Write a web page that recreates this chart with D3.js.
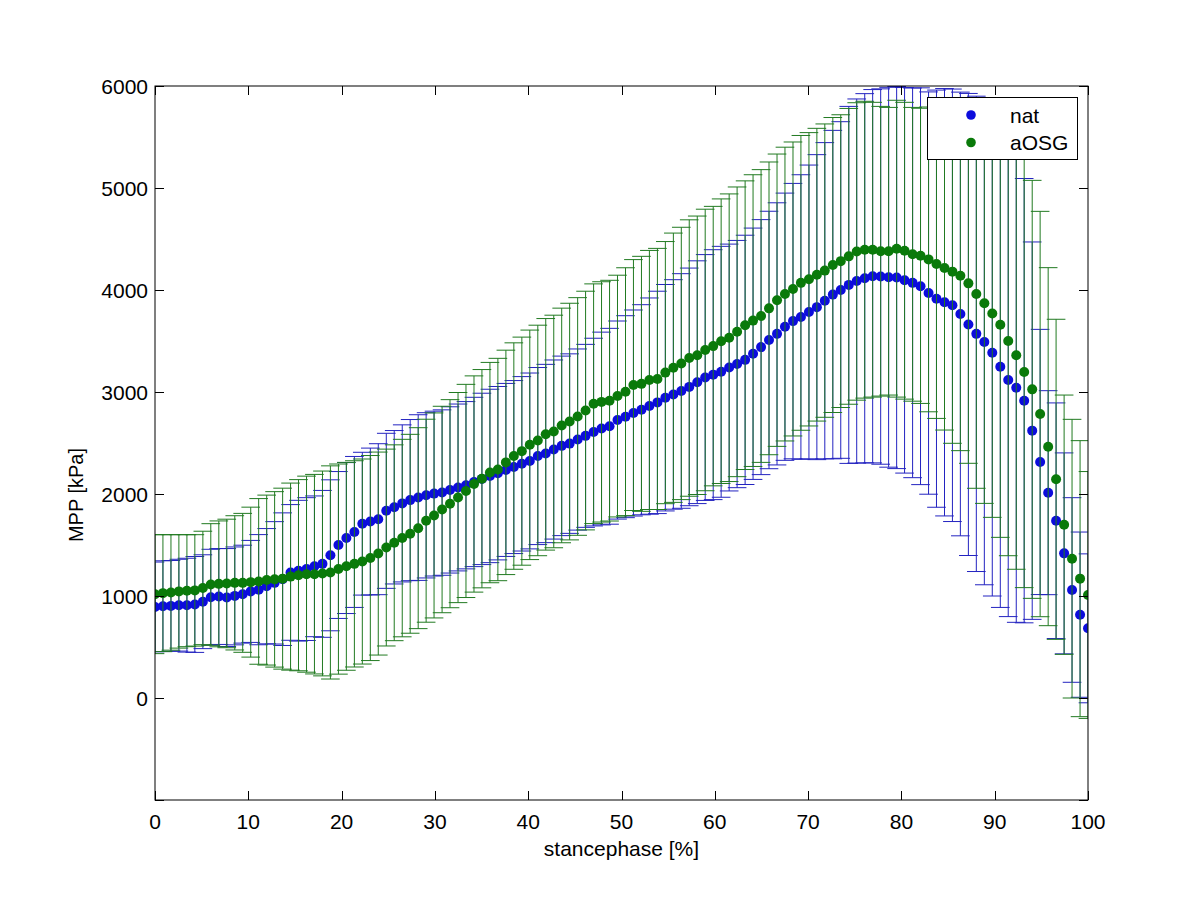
<!DOCTYPE html>
<html><head><meta charset="utf-8">
<script src="https://cdn.jsdelivr.net/npm/d3@7"></script>
<style>body{margin:0;background:#fff} text{font-family:"Liberation Sans",Arial,sans-serif;fill:#000}</style>
</head><body><svg id="c" width="1200" height="900"></svg>
<script>
// stance phase sample positions [%]
const stance = [
 0, 0.85, 1.71, 2.56, 3.42, 4.27, 5.13, 5.98, 6.84, 7.69,
 8.55, 9.40, 10.26, 11.11, 11.97, 12.82, 13.68, 14.53, 15.38, 16.24,
 17.09, 17.95, 18.80, 19.66, 20.51, 21.37, 22.22, 23.08, 23.93, 24.79,
 25.64, 26.50, 27.35, 28.21, 29.06, 29.91, 30.77, 31.62, 32.48, 33.33,
 34.19, 35.04, 35.90, 36.75, 37.61, 38.46, 39.32, 40.17, 41.03, 41.88,
 42.74, 43.59, 44.44, 45.30, 46.15, 47.01, 47.86, 48.72, 49.57, 50.43,
 51.28, 52.14, 52.99, 53.85, 54.70, 55.56, 56.41, 57.26, 58.12, 58.97,
 59.83, 60.68, 61.54, 62.39, 63.25, 64.10, 64.96, 65.81, 66.67, 67.52,
 68.38, 69.23, 70.09, 70.94, 71.79, 72.65, 73.50, 74.36, 75.21, 76.07,
 76.92, 77.78, 78.63, 79.49, 80.34, 81.20, 82.05, 82.91, 83.76, 84.62,
 85.47, 86.32, 87.18, 88.03, 88.89, 89.74, 90.60, 91.45, 92.31, 93.16,
 94.02, 94.87, 95.73, 96.58, 97.44, 98.29, 99.15, 100];

const natMean = [
 893, 900, 903, 910, 910, 917, 944, 988, 995, 985,
 1001, 1018, 1045, 1062, 1096, 1129, 1165, 1231, 1248, 1264,
 1291, 1315, 1399, 1500, 1568, 1628, 1709, 1730, 1753, 1835,
 1870, 1908, 1940, 1965, 1987, 2004, 2014, 2040, 2064, 2086,
 2118, 2148, 2177, 2204, 2236, 2264, 2296, 2324, 2372, 2397,
 2436, 2472, 2494, 2534, 2570, 2607, 2642, 2664, 2725, 2758,
 2794, 2826, 2862, 2898, 2944, 2976, 3010, 3050, 3096, 3142,
 3170, 3198, 3240, 3274, 3315, 3375, 3440, 3510, 3570, 3640,
 3695, 3735, 3785, 3832, 3895, 3955, 4000, 4050, 4088, 4115,
 4135, 4132, 4125, 4122, 4095, 4070, 4037, 3970, 3915, 3880,
 3850, 3765, 3662, 3570, 3490, 3385, 3248, 3118, 3042, 2915,
 2621, 2314, 2013, 1738, 1418, 1059, 817, 683];

const natErr = [
 440, 445, 445, 450, 460, 470, 460, 470, 470, 480,
 480, 480, 500, 540, 565, 600, 650, 665, 690, 700,
 690, 720, 740, 720, 740, 740, 700, 720, 740, 760,
 752, 770, 790, 812, 810, 808, 811, 815, 818, 820,
 830, 840, 850, 850, 848, 848, 855, 862, 868, 874,
 878, 880, 880, 888, 897, 920, 945, 960, 971, 990,
 1010, 1030, 1060, 1090, 1110, 1125, 1150, 1165, 1190, 1205,
 1225, 1230, 1210, 1212, 1222, 1232, 1250, 1262, 1285, 1310,
 1350, 1395, 1440, 1495, 1550, 1610, 1650, 1750, 1785, 1810,
 1830, 1840, 1862, 1873, 1890, 1910, 1945, 1972, 2045, 2095,
 2120, 2175, 2265, 2330, 2380, 2385, 2360, 2320, 2300, 2178,
 1850, 1300, 1000, 1155, 985, 905, 810, 730];

const aosgMean = [
 1018, 1028, 1035, 1045, 1052, 1055, 1079, 1113, 1119, 1123,
 1129, 1129, 1136, 1143, 1156, 1163, 1170, 1190, 1204, 1214,
 1214, 1221, 1231, 1264, 1291, 1315, 1338, 1372, 1416, 1475,
 1522, 1568, 1610, 1665, 1738, 1790, 1848, 1905, 1965, 2030,
 2098, 2150, 2210, 2240, 2310, 2372, 2420, 2482, 2525, 2585,
 2613, 2672, 2710, 2760, 2818, 2885, 2903, 2915, 2960, 3003,
 3068, 3080, 3118, 3128, 3190, 3238, 3280, 3333, 3360, 3412,
 3450, 3498, 3532, 3590, 3655, 3700, 3745, 3820, 3900, 3960,
 4010, 4070, 4105, 4150, 4190, 4245, 4283, 4330, 4378, 4395,
 4395, 4380, 4380, 4405, 4385, 4350, 4335, 4300, 4255, 4215,
 4180, 4140, 4065, 3960, 3870, 3770, 3660, 3500, 3360, 3196,
 3026, 2784, 2464, 2144, 1699, 1366, 1170, 1010];

const aosgErr = [
 583, 573, 566, 556, 549, 546, 556, 596, 617, 630,
 658, 681, 735, 812, 833, 860, 887, 917, 937, 961,
 978, 1004, 1045, 1030, 1019, 1011, 1005, 1005, 995, 965,
 960, 968, 975, 985, 995, 1005, 1012, 1020, 1030, 1045,
 1060, 1070, 1080, 1090, 1100, 1110, 1118, 1125, 1130, 1135,
 1140, 1150, 1160, 1165, 1170, 1175, 1178, 1180, 1185, 1215,
 1230, 1250, 1270, 1280, 1285, 1320, 1335, 1355, 1365, 1380,
 1370, 1395, 1410, 1420, 1415, 1430, 1435, 1435, 1433, 1440,
 1441, 1445, 1438, 1435, 1438, 1446, 1435, 1450, 1458, 1455,
 1445, 1420, 1410, 1455, 1455, 1440, 1447, 1494, 1514, 1588,
 1683, 1715, 1764, 1904, 1962, 1999, 2085, 2105, 2098, 2114,
 2049, 1987, 1755, 1569, 1271, 1366, 1353, 1210];

const seriesNames = ["nat", "aOSG"];
const xTicks = [0, 10, 20, 30, 40, 50, 60, 70, 80, 90, 100];
const yTicks = [-1000, 0, 1000, 2000, 3000, 4000, 5000, 6000];
const yTickLabels = ["", "0", "1000", "2000", "3000", "4000", "5000", "6000"];
const xLabel = "stancephase [%]";
const yLabel = "MPP [kPa]";

const series = [
  {name: seriesNames[0], mean: natMean, err: natErr, dot: "#0c0cdc", bar: "#2323c0"},
  {name: seriesNames[1], mean: aosgMean, err: aosgErr, dot: "#0a7a0a", bar: "#217a21"}
];

const L = 155, R = 1088, T = 86, B = 800;
const x = d3.scaleLinear().domain([0, 100]).range([L, R]);
const y = d3.scaleLinear().domain([-1000, 6000]).range([B, T]);
const tee = 1; // cap half-width in x units (1% of range)

const svg = d3.select("#c");
svg.append("rect").attr("width", 1200).attr("height", 900).attr("fill", "#fff");
svg.append("defs").append("clipPath").attr("id", "plotclip")
  .append("rect").attr("x", L).attr("y", T).attr("width", R - L).attr("height", B - T);

const plot = svg.append("g").attr("clip-path", "url(#plotclip)");

series.forEach(s => {
  const data = stance.map((p, i) => ({p, m: s.mean[i], e: s.err[i]}));
  const g = plot.append("g");
  const bars = g.append("g").attr("stroke", s.bar).attr("stroke-width", 1).attr("fill", "none");
  bars.selectAll(".v").data(data).enter().append("line")
    .attr("x1", d => x(d.p)).attr("x2", d => x(d.p))
    .attr("y1", d => y(d.m - d.e)).attr("y2", d => y(d.m + d.e));
  bars.selectAll(".t").data(data).enter().append("line")
    .attr("x1", d => x(d.p - tee)).attr("x2", d => x(d.p + tee))
    .attr("y1", d => y(d.m + d.e)).attr("y2", d => y(d.m + d.e));
  bars.selectAll(".b").data(data).enter().append("line")
    .attr("x1", d => x(d.p - tee)).attr("x2", d => x(d.p + tee))
    .attr("y1", d => y(d.m - d.e)).attr("y2", d => y(d.m - d.e));
  g.append("g").selectAll("circle").data(data).enter().append("circle")
    .attr("cx", d => x(d.p)).attr("cy", d => y(d.m)).attr("r", 5)
    .attr("fill", s.dot);
});

// axes box and ticks (MATLAB style, inward ticks on all sides)
const ax = svg.append("g").attr("stroke", "#000").attr("stroke-width", 1).attr("fill", "none");
ax.append("rect").attr("x", L).attr("y", T).attr("width", R - L).attr("height", B - T);
const TL = 9;
xTicks.forEach(v => {
  const xv = Math.round(x(v)) + 0.5;
  ax.append("line").attr("x1", xv).attr("x2", xv).attr("y1", B).attr("y2", B - TL);
  ax.append("line").attr("x1", xv).attr("x2", xv).attr("y1", T).attr("y2", T + TL);
});
yTicks.forEach(v => {
  const yv = Math.round(y(v)) + 0.5;
  ax.append("line").attr("x1", L).attr("x2", L + TL).attr("y1", yv).attr("y2", yv);
  ax.append("line").attr("x1", R).attr("x2", R - TL).attr("y1", yv).attr("y2", yv);
});

const fs = 21;
svg.append("g").selectAll("text").data(xTicks).enter().append("text")
  .attr("x", d => x(d)).attr("y", 829).attr("text-anchor", "middle")
  .attr("font-size", fs).text(d => d);
svg.append("g").selectAll("text").data(yTicks).enter().append("text")
  .attr("x", 148).attr("y", d => y(d) + 7.5).attr("text-anchor", "end")
  .attr("font-size", fs).text((d, i) => yTickLabels[i]);

svg.append("text").attr("x", x(50)).attr("y", 856).attr("text-anchor", "middle")
  .attr("font-size", fs).text(xLabel);
svg.append("text").attr("transform", "translate(83,495) rotate(-90)")
  .attr("text-anchor", "middle").attr("font-size", 20).text(yLabel);

// legend
const lg = svg.append("g");
lg.append("rect").attr("x", 927.5).attr("y", 97.5).attr("width", 150).attr("height", 62)
  .attr("fill", "#fff").attr("stroke", "#000").attr("stroke-width", 1);
series.forEach((s, i) => {
  const cy = 115 + i * 27.5;
  lg.append("circle").attr("cx", 971).attr("cy", cy).attr("r", 4.8).attr("fill", s.dot);
  lg.append("text").attr("x", 1010).attr("y", cy + 7.5).attr("font-size", fs).text(s.name);
});
</script>
</body></html>
